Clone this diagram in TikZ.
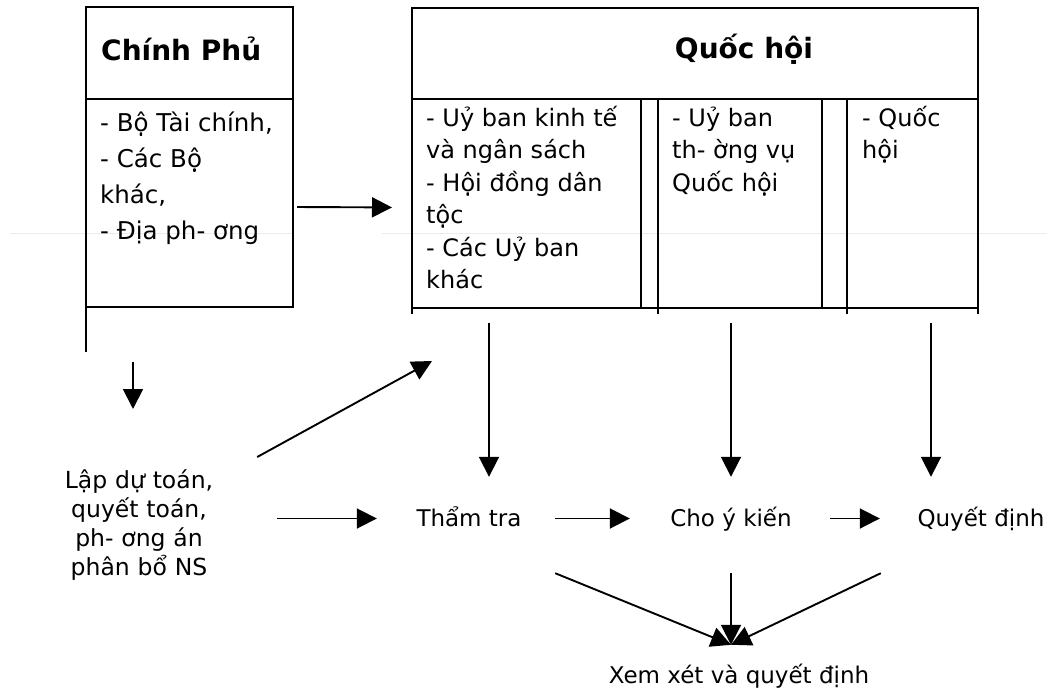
\documentclass[tikz,border=0pt]{standalone}
\usepackage{fontspec}
\setmainfont{DejaVu Sans}
\usetikzlibrary{arrows.meta}

\begin{document}
\begin{tikzpicture}[x=1pt, y=-1pt,
    khung/.style={draw, line width=2.8pt, inner sep=0pt, outer sep=0pt},
    tieude/.style={font=\bfseries\fontsize{28}{34}\selectfont, inner sep=0pt},
    noidung/.style={align=left, inner sep=0pt, anchor=north west},
    nhan/.style={font=\fontsize{23}{29}\selectfont, inner sep=0pt, text height=19pt, text depth=4pt, minimum width=130pt, anchor=base},
    muiten/.style={-{Triangle[length=20pt,width=20pt]}, line width=1.9pt}
  ]
  \useasboundingbox (0,0) rectangle (1047,693);
  \draw[gray!15, line width=0.8pt] (10,233) -- (293,233) (382,233) -- (1047,233);

  % Chinh phu
  \node[khung, minimum width=207pt, minimum height=92pt] (cpdau) at (189.5,53) {};
  \node[khung, minimum width=207pt, minimum height=208pt] (cpthan) at (189.5,203) {};
  \draw[khung] (cpthan.south west) -- ++(0,45);
  \node[tieude, anchor=base west] (cpten) at (101,60) {Chính Phủ};
  \node[noidung, font=\fontsize{24.5}{36}\selectfont] (cpds) at (100,105.8)
    {\strut- Bộ Tài chính,\\- Các Bộ\\khác,\\- Địa ph- ơng};

  % Quoc hoi
  \node[khung, minimum width=566pt, minimum height=91pt] (qhdau) at (695,53.5) {};
  \node[khung, minimum width=566pt, minimum height=209pt] (qhthan) at (695,203.5) {};
  \node[khung, minimum width=229pt, minimum height=209pt] (qh1) at (526.5,203.5) {};
  \node[khung, minimum width=164pt, minimum height=209pt] (qh2) at (740,203.5) {};
  \node[khung, minimum width=131pt, minimum height=209pt] (qh3) at (912.5,203.5) {};
  \draw[khung] (qhthan.south west) -- ++(0,6) (qh2.south west) -- ++(0,6)
    (qh3.south west) -- ++(0,6) (qhthan.south east) -- ++(0,6);
  \node[tieude, anchor=base] (qhten) at (744,59) {Quốc hội};
  \node[noidung, font=\fontsize{24}{32.5}\selectfont] (qhds1) at (426,103.3)
    {\strut- Uỷ ban kinh tế\\và ngân sách\\- Hội đồng dân\\tộc\\- Các Uỷ ban\\khác};
  \node[noidung, font=\fontsize{24}{32.5}\selectfont] (qhds2) at (672,103.3)
    {\strut- Uỷ ban\\th- ờng vụ\\Quốc hội};
  \node[noidung, font=\fontsize{24}{32.5}\selectfont] (qhds3) at (862,103.3)
    {\strut- Quốc\\hội};

  % cac buoc
  \node[font=\fontsize{23.5}{29}\selectfont, inner sep=0pt, text width=150pt, align=center, anchor=north] (lap) at (139,467.7)
    {\strut Lập dự toán,\\quyết toán,\\ph- ơng án\\phân bổ NS};
  \node[nhan] (tham) at (469,526) {Thẩm tra};
  \node[nhan] (cho) at (731,526) {Cho ý kiến};
  \node[nhan] (quyet) at (981,526) {Quyết định};
  \node[nhan] (xem) at (739,683) {Xem xét và quyết định};
  \coordinate (xemdinh) at ([xshift=-8pt,yshift=19pt]xem.north);

  \draw[muiten, shorten <=4pt, shorten >=20pt] ([yshift=-4pt]cpthan.east) -- ([yshift=-4pt]qh1.west);
  \draw[muiten, shorten <=55pt, shorten >=58.7pt] ([xshift=-6pt]lap.north |- cpthan.south) -- ([xshift=-6pt]lap.north);
  \draw[muiten] ([xshift=43pt,yshift=10.7pt]lap.north east) -- ([xshift=20pt,yshift=-53pt]qh1.south west);
  \draw[muiten, shorten <=63pt, shorten >=27pt] (lap.east |- tham) -- (tham.west);
  \draw[muiten, shorten <=15pt, shorten >=30pt] ([xshift=20pt]tham.north |- qh1.south) -- ([xshift=20pt]tham.north);
  \draw[muiten, shorten <=15pt, shorten >=30pt] (cho.north |- qh2.south) -- (cho.north);
  \draw[muiten, shorten <=15pt, shorten >=30pt] ([xshift=-50pt]quyet.north |- qh3.south) -- ([xshift=-50pt]quyet.north);
  \draw[muiten, shorten <=21pt, shorten >=36pt] (tham.east) -- (cho.west);
  \draw[muiten, shorten <=34pt, shorten >=36pt] (cho.east) -- (quyet.west);
  \draw[muiten] ([xshift=21pt,yshift=-43pt]tham.south east) -- (xemdinh);
  \draw[muiten] ([yshift=-43pt]cho.south) -- (xemdinh);
  \draw[muiten] ([xshift=-35pt,yshift=-43pt]quyet.south west) -- (xemdinh);
\end{tikzpicture}
\end{document}
